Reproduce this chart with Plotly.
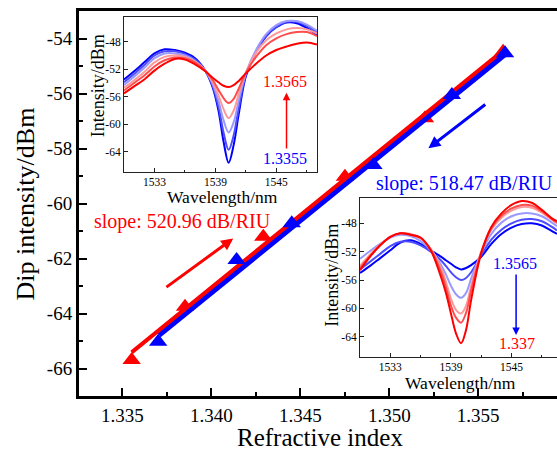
import numpy as np
import plotly.graph_objects as go

# ---------------- main data ----------------
ri_up = [1.33552, 1.33852, 1.34292, 1.34751, 1.35201, 1.3564]
dip_up = [-65.69, -63.75, -61.21, -59.03, -56.90, -54.48]
ri_down = [1.33701, 1.34142, 1.34452, 1.34911, 1.35352, 1.35651]
dip_down = [-65.03, -62.05, -60.72, -58.60, -56.05, -54.54]

main_yticks = [-66, -64, -62, -60, -58, -56, -54]
inset_yticks = [-64, -60, -56, -52, -48]
inset_xticks = [1533, 1539, 1545]

# ---------------- inset 1 (RI increasing 1.3355 -> 1.3565) ----------------
wl1 = [1530, 1531, 1532, 1533, 1534, 1535, 1536, 1537, 1538, 1538.7, 1539.3, 1539.8,
       1540.3, 1540.8, 1541.3, 1542, 1543, 1544, 1545, 1546, 1547, 1548, 1549]
in1_c1 = [-53.5, -52.3, -51.0, -49.7, -49.1, -49.2, -49.6, -50.4, -52.2, -54.5, -58.0, -62.5,
          -65.6, -63.0, -58.5, -53.0, -49.5, -47.2, -45.9, -45.2, -45.3, -46.0, -47.0]
in1_c2 = [-53.9, -52.7, -51.4, -50.0, -49.4, -49.4, -49.8, -50.6, -52.2, -54.3, -57.4, -61.2,
          -63.7, -61.6, -57.6, -52.8, -49.4, -47.1, -45.8, -45.1, -45.1, -45.7, -46.7]
in1_c3 = [-54.3, -53.1, -51.8, -50.4, -49.7, -49.7, -50.0, -50.8, -52.2, -54.0, -56.6, -59.4,
          -61.2, -59.7, -56.5, -52.6, -49.2, -46.9, -45.6, -45.0, -45.0, -45.5, -46.4]
in1_c4 = [-54.7, -53.6, -52.4, -51.0, -50.2, -50.0, -50.2, -50.9, -52.2, -53.8, -55.8, -57.8,
          -59.1, -58.0, -55.6, -52.5, -49.6, -47.8, -46.8, -46.2, -46.0, -46.2, -46.8]
in1_c5 = [-55.1, -54.0, -52.9, -51.6, -50.7, -50.3, -50.4, -51.0, -52.2, -53.5, -55.0, -56.2,
          -56.9, -56.3, -54.8, -52.5, -50.2, -48.5, -47.5, -46.9, -46.6, -46.6, -47.2]
in1_c6 = [-55.5, -54.5, -53.5, -52.2, -51.2, -50.5, -50.6, -51.3, -52.3, -53.2, -53.9, -54.4,
          -54.6, -54.3, -53.7, -52.6, -51.2, -50.0, -49.2, -48.7, -48.3, -48.1, -48.4]

# ---------------- inset 2 (RI decreasing 1.3565 -> 1.337) ----------------
wl2 = [1530, 1531, 1532, 1533, 1534, 1535, 1536, 1537, 1538, 1538.5, 1539, 1539.5,
       1540, 1540.5, 1541, 1542, 1543, 1544, 1545, 1546, 1547, 1548, 1549, 1549.5]
in2_c1 = [-55.0, -54.0, -52.9, -51.8, -50.7, -50.4, -50.9, -51.8, -52.7, -53.2, -53.7, -54.2,
          -54.5, -54.3, -53.9, -52.7, -50.9, -49.5, -48.6, -48.1, -48.0, -48.3, -49.1, -49.5]
in2_c2 = [-54.5, -53.4, -52.3, -51.2, -50.6, -50.6, -51.1, -52.0, -53.2, -54.0, -54.9, -55.6,
          -56.0, -55.7, -54.9, -52.5, -50.3, -48.9, -48.0, -47.5, -47.4, -47.7, -48.5, -49.0]
in2_c3 = [-53.0, -51.9, -50.9, -50.0, -49.6, -49.8, -50.5, -51.8, -53.8, -55.2, -56.8, -58.0,
          -58.5, -57.8, -55.8, -52.2, -49.5, -47.9, -47.0, -46.6, -46.6, -47.0, -47.9, -48.4]
in2_c4 = [-54.0, -52.4, -51.0, -49.9, -49.4, -49.5, -50.1, -51.6, -54.2, -56.2, -58.6, -60.2,
          -60.7, -59.6, -56.8, -52.0, -48.9, -47.2, -46.2, -45.7, -45.8, -46.5, -47.5, -48.0]
in2_c5 = [-54.3, -52.6, -51.1, -49.9, -49.4, -49.6, -50.1, -51.7, -54.8, -57.0, -59.6, -61.3,
          -62.0, -60.6, -57.5, -52.1, -48.7, -46.9, -45.9, -45.4, -45.5, -46.3, -47.4, -47.9]
in2_c6 = [-54.6, -52.7, -51.1, -49.9, -49.4, -49.6, -50.0, -51.8, -55.5, -57.8, -60.7, -63.5,
          -64.9, -63.0, -58.8, -52.2, -48.5, -46.6, -45.4, -44.85, -45.1, -46.1, -47.3, -47.7]

curve_colors = ['#0000FF', '#4D4DFF', '#9999FF', '#FF9999', '#FF4D4D', '#FF0000']

FONT = 'Liberation Serif'
RED = '#FF0000'
BLUE = '#0000FF'

fig = go.Figure()

# linear fits
fu = np.polyfit(ri_up, dip_up, 1)
fd = np.polyfit(ri_down, dip_down, 1)
xu = np.array([min(ri_up), max(ri_up)])
xd = np.array([min(ri_down), max(ri_down)])

fig.add_trace(go.Scatter(x=ri_up, y=dip_up, mode='markers',
                         marker=dict(symbol='triangle-up', size=16, color=RED), xaxis='x', yaxis='y'))
fig.add_trace(go.Scatter(x=xd, y=np.polyval(fd, xd), mode='lines',
                         line=dict(color=BLUE, width=8), xaxis='x', yaxis='y'))
fig.add_trace(go.Scatter(x=xu, y=np.polyval(fu, xu), mode='lines',
                         line=dict(color=RED, width=4), xaxis='x', yaxis='y'))
fig.add_trace(go.Scatter(x=ri_down, y=dip_down, mode='markers',
                         marker=dict(symbol='triangle-up', size=16, color=BLUE), xaxis='x', yaxis='y'))

for ys, c in zip([in1_c1, in1_c2, in1_c3, in1_c4, in1_c5, in1_c6], curve_colors):
    fig.add_trace(go.Scatter(x=wl1, y=ys, mode='lines', line=dict(color=c, width=2, shape='spline'),
                             xaxis='x2', yaxis='y2'))
for ys, c in zip([in2_c1, in2_c2, in2_c3, in2_c4, in2_c5, in2_c6], curve_colors):
    fig.add_trace(go.Scatter(x=wl2, y=ys, mode='lines', line=dict(color=c, width=2, shape='spline'),
                             xaxis='x3', yaxis='y3'))

main_ax = dict(showline=True, linecolor='black', linewidth=3, ticks='inside', ticklen=8,
               tickwidth=2, tickcolor='black', showgrid=False, zeroline=False,
               tickfont=dict(family=FONT, size=19, color='black'))
fig.update_layout(
    xaxis=dict(main_ax, range=[1.33256, 1.35943], dtick=0.005, tick0=1.335, tickformat='.3f',
               mirror=True, minor=dict(dtick=0.0025, tick0=1.335, ticks='inside', ticklen=4,
                                       tickwidth=2, tickcolor='black'), domain=[0, 1]),
    yaxis=dict(main_ax, range=[-67, -53], tickvals=main_yticks,
               ticktext=['-%d' % abs(v) for v in main_yticks],
               minor=dict(dtick=1, tick0=-66, ticks='inside', ticklen=4, tickwidth=2,
                          tickcolor='black'), domain=[0, 1]),
)

inset_ax = dict(showline=True, linecolor='#222222', linewidth=1, mirror=True, ticks='inside',
                ticklen=4, tickwidth=1, tickcolor='#222222', showgrid=False, zeroline=False,
                tickfont=dict(family=FONT, size=11.5, color='black'))
inset_ytext = ['-%d' % abs(v) for v in inset_yticks]
fig.update_layout(
    xaxis2=dict(inset_ax, anchor='y2', domain=[0.0941, 0.4979], range=[1530, 1549],
                tickvals=inset_xticks,
                minor=dict(tickvals=[1536, 1542, 1548], ticks='inside', ticklen=2, tickcolor='#222222')),
    yaxis2=dict(inset_ax, anchor='x2', domain=[0.5826, 0.9836], range=[-66.9, -44.45],
                tickvals=inset_yticks, ticktext=inset_ytext),
    xaxis3=dict(inset_ax, anchor='y3', domain=[0.5879, 1.0], range=[1530, 1549.5],
                tickvals=inset_xticks,
                minor=dict(tickvals=[1536, 1542, 1548], ticks='inside', ticklen=2, tickcolor='#222222')),
    yaxis3=dict(inset_ax, anchor='x3', domain=[0.1021, 0.5135], range=[-66.8, -44.47],
                tickvals=inset_yticks, ticktext=inset_ytext),
)

ann = []
def txt(x, y, s, size, color='black', xref='paper', yref='paper', angle=0, xanchor='center'):
    ann.append(dict(x=x, y=y, xref=xref, yref=yref, text=s, showarrow=False, textangle=angle,
                    xanchor=xanchor, yanchor='middle',
                    font=dict(family=FONT, size=size, color=color)))

def arrow(x0, y0, x1, y1, color, width, size, xref, yref):
    ann.append(dict(x=x1, y=y1, ax=x0, ay=y0, xref=xref, yref=yref, axref=xref, ayref=yref,
                    text='', showarrow=True, arrowhead=2, arrowsize=size, arrowwidth=width,
                    arrowcolor=color))

txt(0.5052, -0.1078, 'Refractive index', 25)
txt(-0.1109, 0.5, 'Dip intensity/dBm', 26, angle=-90)
txt(0.2165, 0.4527, 'slope: 520.96 dB/RIU', 20, RED)
txt(0.6172, 0.5524, 'slope: 518.47 dB/RIU', 20, BLUE, xanchor='left')
arrow(1.33739, -63.08, 1.34123, -61.27, RED, 3, 0.8, 'x', 'y')
arrow(1.35548, -56.36, 1.3522, -57.99, BLUE, 3, 0.8, 'x', 'y')

txt(0.0404, 0.8052, 'Intensity/dBm', 18, angle=-90)
txt(0.3002, 0.5170, 'Wavelength/nm', 17.5)
txt(0.5287, 0.3143, 'Intensity/dBm', 18, angle=-90)
txt(0.7985, 0.0338, 'Wavelength/nm', 17.5)

txt(1545.9, -53.81, '1.3565', 16, RED, 'x2', 'y2')
txt(1545.9, -64.95, '1.3355', 16, BLUE, 'x2', 'y2')
arrow(1546.0, -63.75, 1546.0, -55.41, RED, 1.5, 1, 'x2', 'y2')
txt(1545.35, -53.73, '1.3565', 16, BLUE, 'x3', 'y3')
txt(1545.5, -64.91, '1.337', 16, RED, 'x3', 'y3')
arrow(1545.45, -55.0, 1545.45, -63.74, BLUE, 1.5, 1, 'x3', 'y3')

fig.update_layout(annotations=ann, width=557, height=450, showlegend=False,
                  margin=dict(l=79, r=0, t=11, b=54), paper_bgcolor='white', plot_bgcolor='white')

fig.write_html('out.html')
